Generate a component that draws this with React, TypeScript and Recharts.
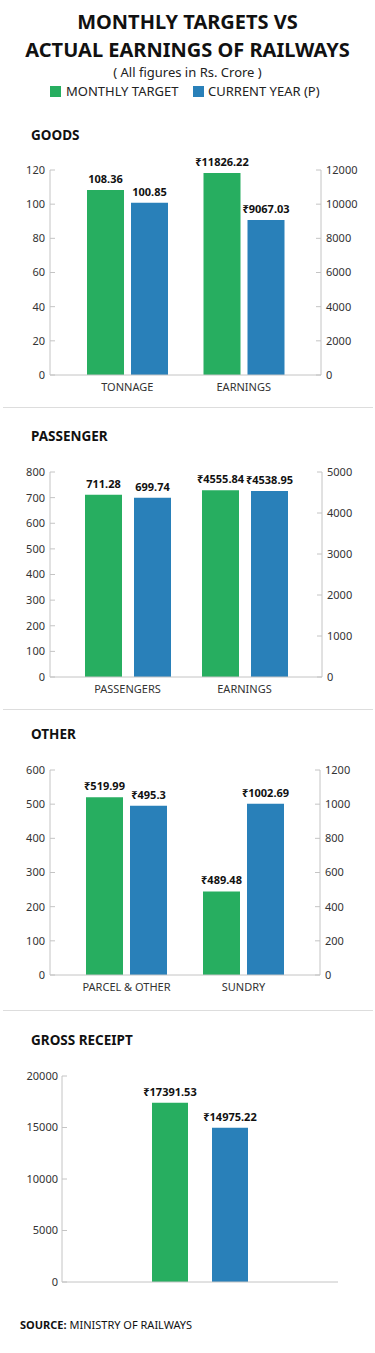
import React from 'react';
import { ComposedChart, Bar, XAxis, YAxis, LabelList } from 'recharts';

const GREEN = '#27AE60';
const BLUE = '#2980B9';
const AXIS = '#C4C4C4';
const FONT = '"Noto Sans", "DejaVu Sans", sans-serif';

const goodsCategories = ['TONNAGE', 'EARNINGS'];
const goodsTarget = [108.36, 11826.22];
const goodsCurrent = [100.85, 9067.03];
const goodsPrefix = ['', '₹'];
const goodsLeftTicks = [0, 20, 40, 60, 80, 100, 120];
const goodsRightTicks = [0, 2000, 4000, 6000, 8000, 10000, 12000];

const passengerCategories = ['PASSENGERS', 'EARNINGS'];
const passengerTarget = [711.28, 4555.84];
const passengerCurrent = [699.74, 4538.95];
const passengerPrefix = ['', '₹'];
const passengerLeftTicks = [0, 100, 200, 300, 400, 500, 600, 700, 800];
const passengerRightTicks = [0, 1000, 2000, 3000, 4000, 5000];

const otherCategories = ['PARCEL & OTHER', 'SUNDRY'];
const otherTarget = [519.99, 489.48];
const otherCurrent = [495.3, 1002.69];
const otherPrefix = ['₹', '₹'];
const otherLeftTicks = [0, 100, 200, 300, 400, 500, 600];
const otherRightTicks = [0, 200, 400, 600, 800, 1000, 1200];

const grossCategories = ['GROSS RECEIPT'];
const grossTarget = [17391.53];
const grossCurrent = [14975.22];
const grossPrefix = ['₹'];
const grossTicks = [0, 5000, 10000, 15000, 20000];

const tickStyle = { fontSize: 11, fill: '#333', fontFamily: FONT };

const makeLabel = (prefix: string) => (props: any) => {
  const { x, y, width, value } = props;
  if (value === null || value === undefined) return null;
  return (
    <text
      x={Number(x) + Number(width) / 2}
      y={Number(y) - 7}
      textAnchor="middle"
      fontSize={11}
      fontWeight={700}
      fontFamily={FONT}
      fill="#111"
    >
      {prefix + value}
    </text>
  );
};

type DualProps = {
  categories: string[];
  target: number[];
  current: number[];
  prefix: string[];
  leftTicks: number[];
  rightTicks: number[];
  plotLeft: number;
  plotRight: number;
  plotTop: number;
  plotBottom: number;
  pad: number;
  gap: number;
};

function DualChart(p: DualProps) {
  const data = p.categories.map((name, i) => ({
    name,
    tL: i === 0 ? p.target[i] : null,
    cL: i === 0 ? p.current[i] : null,
    tR: i === 1 ? p.target[i] : null,
    cR: i === 1 ? p.current[i] : null,
  }));
  const mTop = 20;
  const xH = 30;
  const top = p.plotTop - mTop;
  const height = p.plotBottom - top + xH;
  return (
    <div style={{ position: 'absolute', left: 0, top, width: 375, height }}>
      <ComposedChart
        width={375}
        height={height}
        data={data}
        margin={{ top: mTop, right: 0, bottom: 0, left: 0 }}
        barGap={p.gap}
      >
        <XAxis
          xAxisId="L"
          dataKey="name"
          padding={{ left: p.pad, right: p.pad }}
          tickLine={false}
          axisLine={{ stroke: AXIS }}
          tick={tickStyle}
          height={xH}
          interval={0}
        />
        <XAxis xAxisId="R" dataKey="name" hide padding={{ left: p.pad, right: p.pad }} />
        <YAxis
          yAxisId="L"
          width={p.plotLeft}
          domain={[0, p.leftTicks[p.leftTicks.length - 1]]}
          ticks={p.leftTicks}
          interval={0}
          tickSize={-5}
          tickMargin={10}
          axisLine={{ stroke: AXIS }}
          tickLine={{ stroke: AXIS }}
          tick={tickStyle}
        />
        <YAxis
          yAxisId="R"
          orientation="right"
          width={375 - p.plotRight}
          domain={[0, p.rightTicks[p.rightTicks.length - 1]]}
          ticks={p.rightTicks}
          interval={0}
          tickSize={-5}
          tickMargin={10}
          axisLine={{ stroke: AXIS }}
          tickLine={{ stroke: AXIS }}
          tick={tickStyle}
        />
        <Bar dataKey="tL" xAxisId="L" yAxisId="L" fill={GREEN} barSize={37} isAnimationActive={false}>
          <LabelList dataKey="tL" content={makeLabel(p.prefix[0])} />
        </Bar>
        <Bar dataKey="cL" xAxisId="L" yAxisId="L" fill={BLUE} barSize={37} isAnimationActive={false}>
          <LabelList dataKey="cL" content={makeLabel(p.prefix[0])} />
        </Bar>
        <Bar dataKey="tR" xAxisId="R" yAxisId="R" fill={GREEN} barSize={37} isAnimationActive={false}>
          <LabelList dataKey="tR" content={makeLabel(p.prefix[1])} />
        </Bar>
        <Bar dataKey="cR" xAxisId="R" yAxisId="R" fill={BLUE} barSize={37} isAnimationActive={false}>
          <LabelList dataKey="cR" content={makeLabel(p.prefix[1])} />
        </Bar>
      </ComposedChart>
    </div>
  );
}

function GrossChart() {
  const data = grossCategories.map((name, i) => ({ name, t: grossTarget[i], c: grossCurrent[i] }));
  const plotTop = 1076;
  const plotBottom = 1282;
  const mTop = 20;
  const xH = 30;
  const top = plotTop - mTop;
  const height = plotBottom - top + xH;
  return (
    <div style={{ position: 'absolute', left: 0, top, width: 375, height }}>
      <ComposedChart
        width={375}
        height={height}
        data={data}
        margin={{ top: mTop, right: 37, bottom: 0, left: 0 }}
        barGap={24}
      >
        <XAxis dataKey="name" tick={false} tickLine={false} axisLine={{ stroke: AXIS }} height={xH} />
        <YAxis
          width={62}
          domain={[0, grossTicks[grossTicks.length - 1]]}
          ticks={grossTicks}
          interval={0}
          tickSize={-5}
          tickMargin={9}
          axisLine={{ stroke: AXIS }}
          tickLine={{ stroke: AXIS }}
          tick={tickStyle}
        />
        <Bar dataKey="t" fill={GREEN} barSize={36} isAnimationActive={false}>
          <LabelList dataKey="t" content={makeLabel(grossPrefix[0])} />
        </Bar>
        <Bar dataKey="c" fill={BLUE} barSize={36} isAnimationActive={false}>
          <LabelList dataKey="c" content={makeLabel(grossPrefix[0])} />
        </Bar>
      </ComposedChart>
    </div>
  );
}

const abs = (top: number, extra: React.CSSProperties = {}): React.CSSProperties => ({
  position: 'absolute',
  top,
  ...extra,
});

function SectionTitle({ text, centerY }: { text: string; centerY: number }) {
  return (
    <div
      style={abs(centerY - 9, {
        left: 31,
        height: 18,
        lineHeight: '18px',
        fontSize: 13.5,
        fontWeight: 700,
        color: '#111',
        whiteSpace: 'nowrap',
      })}
    >
      {text}
    </div>
  );
}

function Separator({ y }: { y: number }) {
  return <div style={abs(y, { left: 3, width: 370, height: 1, background: '#DDD' })} />;
}

export default function App() {
  return (
    <div
      style={{
        position: 'absolute',
        left: 0,
        top: 0,
        width: 375,
        height: 1353,
        background: '#fff',
        overflow: 'hidden',
        fontFamily: FONT,
      }}
    >
      <div
        style={abs(8, {
          left: 0,
          width: 375,
          textAlign: 'center',
          fontSize: 20,
          fontWeight: 700,
          lineHeight: '28px',
          color: '#111',
        })}
      >
        MONTHLY TARGETS VS
        <br />
        ACTUAL EARNINGS OF RAILWAYS
      </div>
      <div
        style={abs(63, {
          left: 0,
          width: 375,
          textAlign: 'center',
          fontSize: 13,
          lineHeight: '18px',
          color: '#222',
        })}
      >
        ( All figures in Rs. Crore )
      </div>
      <div style={abs(86, { left: 50, width: 11, height: 11, background: GREEN })} />
      <div style={abs(82, { left: 66, fontSize: 13, lineHeight: '19px', color: '#222', whiteSpace: 'nowrap' })}>
        MONTHLY TARGET
      </div>
      <div style={abs(86, { left: 193, width: 11, height: 11, background: BLUE })} />
      <div style={abs(82, { left: 208, fontSize: 13, lineHeight: '19px', color: '#222', whiteSpace: 'nowrap' })}>
        CURRENT YEAR (P)
      </div>

      <SectionTitle text="GOODS" centerY={135} />
      <DualChart
        categories={goodsCategories}
        target={goodsTarget}
        current={goodsCurrent}
        prefix={goodsPrefix}
        leftTicks={goodsLeftTicks}
        rightTicks={goodsRightTicks}
        plotLeft={50}
        plotRight={321}
        plotTop={170}
        plotBottom={375}
        pad={19}
        gap={7}
      />
      <Separator y={407} />

      <SectionTitle text="PASSENGER" centerY={436} />
      <DualChart
        categories={passengerCategories}
        target={passengerTarget}
        current={passengerCurrent}
        prefix={passengerPrefix}
        leftTicks={passengerLeftTicks}
        rightTicks={passengerRightTicks}
        plotLeft={50}
        plotRight={322}
        plotTop={472}
        plotBottom={677}
        pad={19}
        gap={12}
      />
      <Separator y={709} />

      <SectionTitle text="OTHER" centerY={734} />
      <DualChart
        categories={otherCategories}
        target={otherTarget}
        current={otherCurrent}
        prefix={otherPrefix}
        leftTicks={otherLeftTicks}
        rightTicks={otherRightTicks}
        plotLeft={50}
        plotRight={320}
        plotTop={770}
        plotBottom={975}
        pad={18}
        gap={7}
      />
      <Separator y={1010} />

      <SectionTitle text="GROSS RECEIPT" centerY={1040} />
      <GrossChart />

      <div style={abs(1316, { left: 20, fontSize: 11, lineHeight: '18px', color: '#111', whiteSpace: 'nowrap' })}>
        <b>SOURCE:</b> MINISTRY OF RAILWAYS
      </div>
    </div>
  );
}
